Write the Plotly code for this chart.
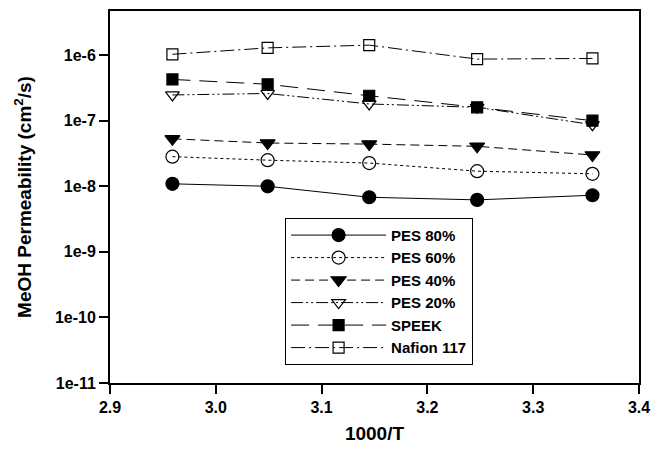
import plotly.graph_objects as go

# 1000/T values (T = 338, 328, 318, 308, 298 K)
inv_T = [2.959, 3.049, 3.145, 3.247, 3.356]

pes80 = [1.09e-8, 1.0e-8, 6.8e-9, 6.2e-9, 7.3e-9]
pes60 = [2.83e-8, 2.5e-8, 2.26e-8, 1.7e-8, 1.55e-8]
pes40 = [5.3e-8, 4.57e-8, 4.4e-8, 4.07e-8, 3.0e-8]
pes20 = [2.47e-7, 2.6e-7, 1.8e-7, 1.6e-7, 8.7e-8]
speek = [4.26e-7, 3.6e-7, 2.4e-7, 1.6e-7, 1.0e-7]
nafion = [1.03e-6, 1.29e-6, 1.42e-6, 8.7e-7, 8.9e-7]

series_names = ["PES 80%", "PES 60%", "PES 40%", "PES 20%", "SPEEK", "Nafion 117"]
series_vals = [pes80, pes60, pes40, pes20, speek, nafion]
symbols = ["circle", "circle-open", "triangle-down", "triangle-down-open", "square", "square-open"]
dashes = ["solid", "dot", "9px,5px", "12px,3px,2px,3px,2px,3px", "18px,9px", "14px,4px,2px,4px"]
sizes = [13, 13, 13, 12, 11, 11]

y_tickvals = [1e-11, 1e-10, 1e-9, 1e-8, 1e-7, 1e-6]
y_ticktext = ["1e-11", "1e-10", "1e-9", "1e-8", "1e-7", "1e-6"]
x_tickvals = [2.9, 3.0, 3.1, 3.2, 3.3, 3.4]

fig = go.Figure()
for name, vals, sym, dash, sz in zip(series_names, series_vals, symbols, dashes, sizes):
    fig.add_trace(go.Scatter(
        x=inv_T, y=vals, name=name, mode="lines+markers",
        line=dict(color="black", width=1, dash=dash),
        marker=dict(symbol=sym, size=sz, color="black",
                    line=dict(color="black", width=1.2)),
    ))

font_family = "Liberation Sans, Arial, sans-serif"
fig.update_layout(
    width=665, height=457,
    margin=dict(l=110, r=26, t=9, b=74),
    paper_bgcolor="white", plot_bgcolor="white",
    font=dict(family=font_family, color="black", size=16),
    showlegend=True,
    legend=dict(
        x=0.331, y=0.444, xanchor="left", yanchor="top",
        bordercolor="black", borderwidth=1, bgcolor="white",
        font=dict(family=font_family, size=15, color="black", weight="bold"),
        itemwidth=95, tracegroupgap=0,
    ),
    xaxis=dict(
        range=[2.9, 3.4], tickvals=x_tickvals, tickformat=".1f",
        showgrid=False, zeroline=False,
        showline=True, linecolor="black", linewidth=2, mirror=True,
        ticks="outside", ticklen=9, tickwidth=2, tickcolor="black",
        tickfont=dict(size=16, weight="bold"),
        title=dict(text="1000/T", font=dict(size=19, weight="bold"), standoff=11),
    ),
    yaxis=dict(
        type="log", range=[-11, -5.327],
        tickvals=y_tickvals, ticktext=y_ticktext,
        showgrid=False, zeroline=False,
        showline=True, linecolor="black", linewidth=2, mirror=True,
        ticks="outside", ticklen=9, tickwidth=2, tickcolor="black",
        tickfont=dict(size=16, weight="bold"),
        title=dict(text="MeOH Permeability (cm<sup>2</sup>/s)",
                   font=dict(size=19, weight="bold"), standoff=18),
    ),
)

fig.write_html("out.html")
